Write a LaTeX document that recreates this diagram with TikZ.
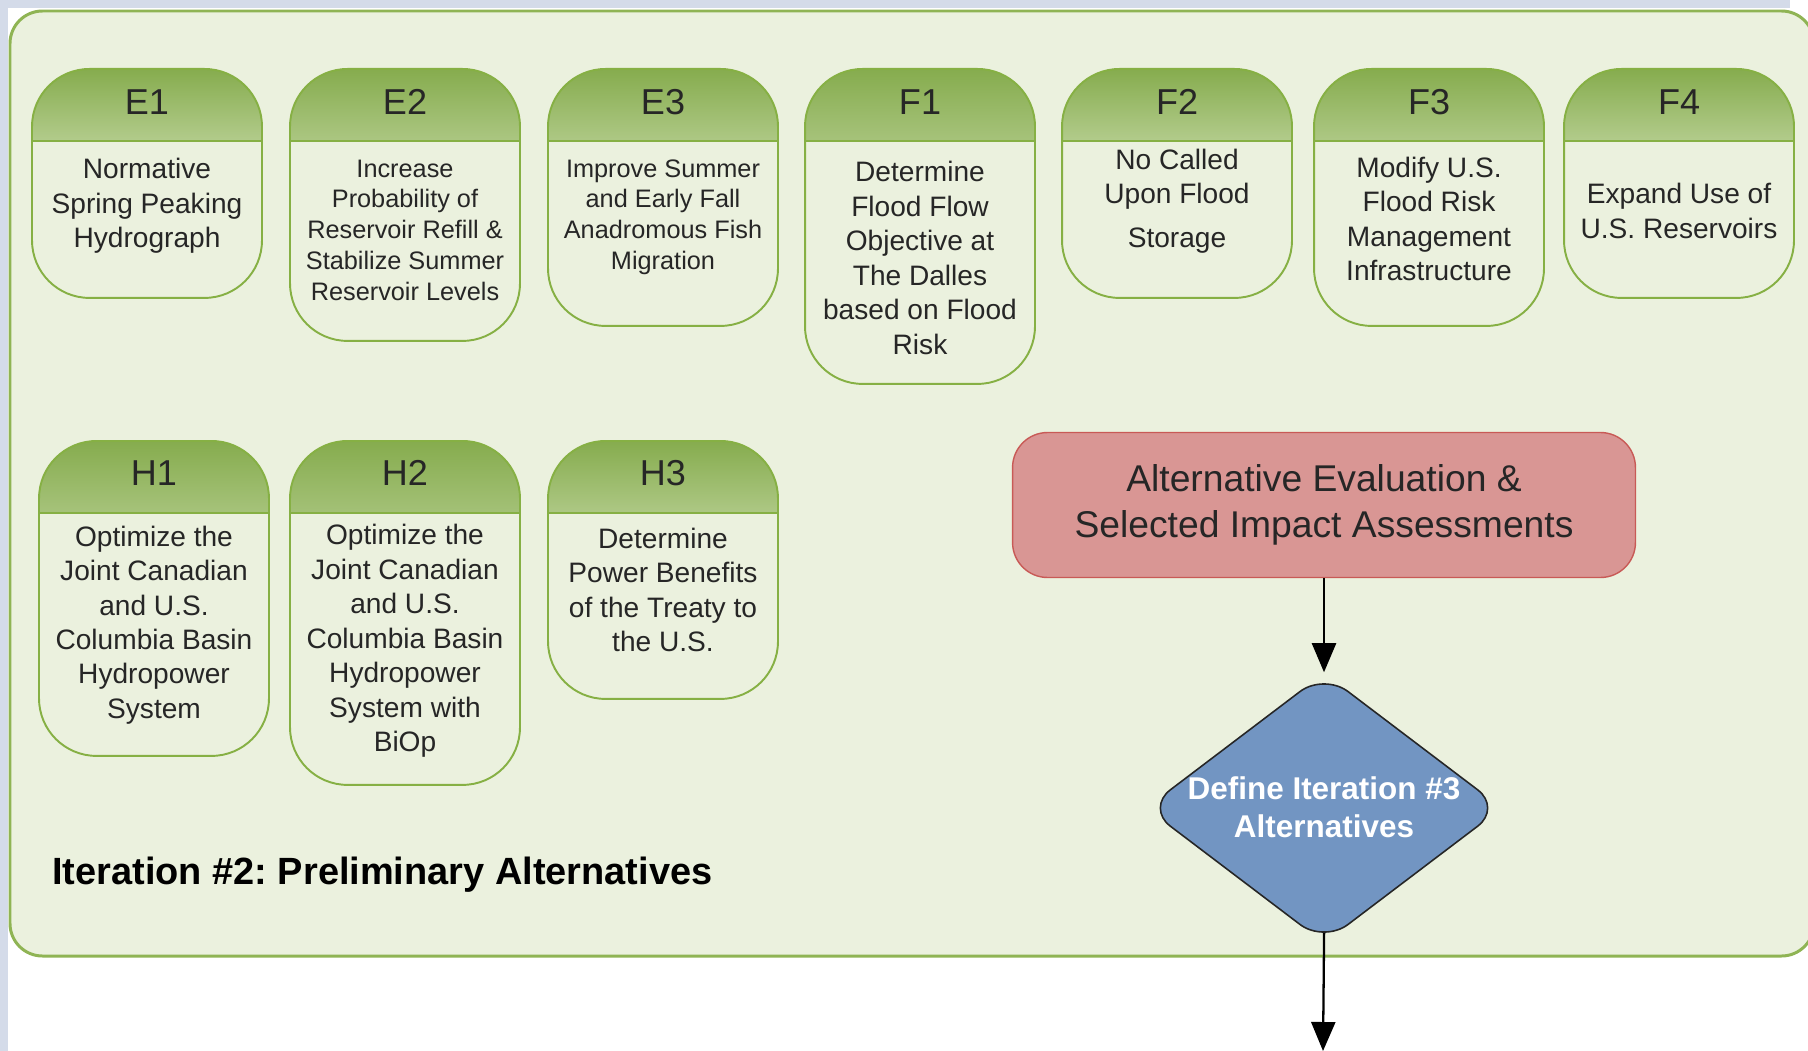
\documentclass[tikz,border=0pt]{standalone}
\usepackage{fontspec}
\setmainfont{Liberation Sans}
\usepackage{tikz}
\usetikzlibrary{shapes.geometric, arrows.meta}
\frenchspacing

\definecolor{panelbg}{RGB}{235,241,222}
\definecolor{panelline}{RGB}{143,180,84}
\definecolor{cardline}{RGB}{134,176,68}
\definecolor{hdrtop}{RGB}{134,172,78}
\definecolor{hdrmid}{RGB}{196,216,164}
\definecolor{hdrbot}{RGB}{244,248,238}
\definecolor{evalfill}{RGB}{217,150,148}
\definecolor{evalline}{RGB}{200,90,86}
\definecolor{decfill}{RGB}{114,149,194}
\definecolor{stripblue}{RGB}{212,219,233}
\definecolor{inktext}{RGB}{38,38,38}

% the middle 50bp of a shading cover the shaded path
\pgfdeclareverticalshading{hdrfade}{100bp}{color(0bp)=(hdrbot); color(36bp)=(hdrbot);
    color(53bp)=(hdrmid); color(75bp)=(hdrtop); color(100bp)=(hdrtop)}

\begin{document}
\begin{tikzpicture}[x=0.02cm, y=-0.02cm,
    card/.style={draw=cardline, line width=1.1pt, fill=panelbg, rounded corners=1.15cm,
        minimum width=4.6cm, anchor=north, inner sep=0pt,
        path picture={
            \shade[sharp corners, shading=hdrfade]
                (path picture bounding box.north west) rectangle
                ([yshift=-1.44cm]path picture bounding box.north east);
            \draw[sharp corners, cardline, line width=1.6pt]
                ([yshift=-1.44cm]path picture bounding box.north west) --
                ([yshift=-1.44cm]path picture bounding box.north east);
        }},
    hdr/.style={font=\fontsize{20.5}{24}\selectfont, text=inktext, inner sep=0pt},
    body/.style={align=center, text=inktext, inner sep=0pt},
    evalbox/.style={draw=evalline, line width=0.8pt, fill=evalfill, rounded corners=0.7cm,
        minimum width=12.46cm, minimum height=2.9cm, align=center,
        font=\fontsize{21.2}{26}\selectfont, text=inktext},
    decide/.style={diamond, draw=black!85, line width=0.9pt, fill=decfill,
        minimum width=7.12cm, minimum height=5.4cm, inner sep=0pt, rounded corners=0.6cm},
    dtxt/.style={align=center, text=white, inner sep=0pt,
        font=\bfseries\fontsize{17.9}{21.5}\selectfont},
    flow/.style={-{Triangle[length=0.58cm, width=0.48cm]}, line width=1.3pt, black},
    caption/.style={anchor=west, inner sep=0pt, font=\bfseries\fontsize{21.6}{26}\selectfont}
]
    \clip (0,0) rectangle (1808,1051);
    \fill[white] (0,0) rectangle (1808,1051);
    \fill[stripblue] (0,0) rectangle (1790,8);
    \fill[stripblue] (0,0) rectangle (8,1051);

    % Panel
    \draw[fill=panelbg, draw=panelline, line width=1.7pt, rounded corners=0.65cm]
        (10,11) rectangle (1814,956);
    \node[caption] (title) at (52,875) {Iteration \#2: Preliminary Alternatives};

    % E and F alternatives
    \foreach \name/\cx/\cardh/\txty/\fsize/\fskip/\txt in {
        E1/147/4.58/206/16/19.6/{Normative\\Spring Peaking\\Hydrograph},
        E2/405/5.44/230/14.4/17.5/{Increase\\Probability of\\Reservoir Refill \&\\Stabilize Summer\\Reservoir Levels},
        E3/663/5.14/217/14.4/17.5/{Improve Summer\\and Early Fall\\Anadromous Fish\\Migration},
        F1/920/6.30/258/16/19.6/{Determine\\Flood Flow\\Objective at\\The Dalles\\based on Flood\\Risk},
        F2/1177/4.58/201/16/19.6/{No Called\\Upon Flood\\[5pt]Storage},
        F3/1429/5.14/219/16/19.6/{Modify U.S.\\Flood Risk\\Management\\Infrastructure},
        F4/1679/4.58/211/16/19.6/{Expand Use of\\U.S. Reservoirs}} {
        \node[card, minimum height=\cardh cm] (\name) at (\cx,68) {};
        \node[hdr] (\name-hdr) at (\cx,102) {\name};
        \node[body, font=\fontsize{\fsize}{\fskip}\selectfont] (\name-txt) at (\cx,\txty) {\txt};
    }

    % H alternatives
    \foreach \name/\cx/\cardh/\txty/\txt in {
        H1/154/6.30/625/{Optimize the\\Joint Canadian\\and U.S.\\Columbia Basin\\Hydropower\\System},
        H2/405/6.88/641/{Optimize the\\Joint Canadian\\and U.S.\\Columbia Basin\\Hydropower\\System with\\BiOp},
        H3/663/5.16/590/{Determine\\Power Benefits\\of the Treaty to\\the U.S.}} {
        \node[card, minimum height=\cardh cm] (\name) at (\cx,440) {};
        \node[hdr] (\name-hdr) at (\cx,473) {\name};
        \node[body, font=\fontsize{16}{19.6}\selectfont] (\name-txt) at (\cx,\txty) {\txt};
    }

    % Evaluation and decision
    \node[evalbox] (eval) at (1324,505) {Alternative Evaluation \&\\Selected Impact Assessments};
    \node[decide] (decision) at (1324,808) {};
    \node[dtxt] (decision-txt) at (1324,807) {Define Iteration \#3\\Alternatives};
    \coordinate (exit) at (1323,1051);

    % Arrows
    \draw[flow] (eval.south) -- (decision.north);
    \draw[flow, shorten <=-0.22cm] (decision.south) -- (exit);
\end{tikzpicture}
\end{document}
